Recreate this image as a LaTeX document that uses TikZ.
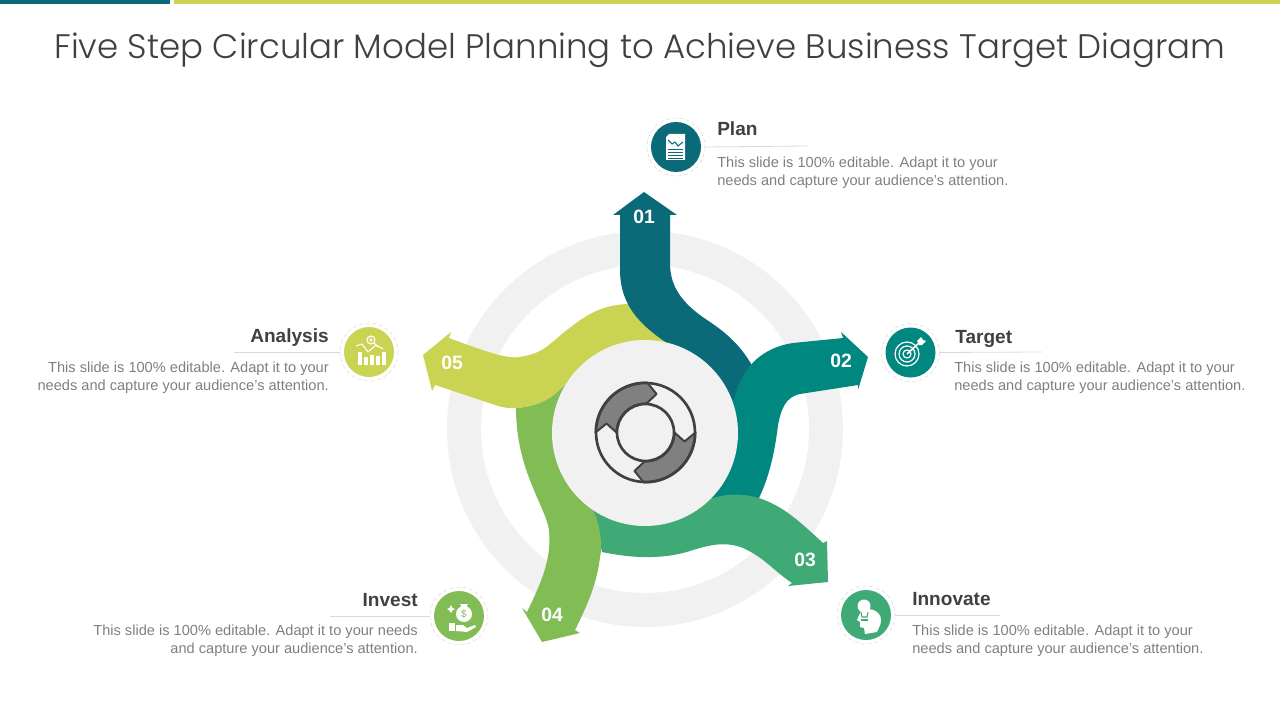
\documentclass[tikz,border=0pt]{standalone}
\usepackage{fontspec}
\setmainfont{Liberation Sans}
\newfontfamily\titlefont{Poppins Light}
\usetikzlibrary{arrows.meta, positioning, calc}
\definecolor{stepone}{HTML}{0A6A78}
\definecolor{steptwo}{HTML}{00877F}
\definecolor{stepthree}{HTML}{3FAA75}
\definecolor{stepfour}{HTML}{82BC55}
\definecolor{stepfive}{HTML}{CBD352}
\definecolor{softgray}{HTML}{F1F1F1}
\definecolor{darktext}{HTML}{404040}
\definecolor{bodytext}{HTML}{7F7F7F}
\definecolor{rulegray}{HTML}{D9D9D9}
\tikzset{
    numlabel/.style={text=white, font=\fontsize{14.5}{16}\selectfont\bfseries, inner sep=0pt},
    headleft/.style={text=darktext, font=\fontsize{14.3}{18}\selectfont\bfseries, inner sep=0pt, anchor=base west},
    headright/.style={text=darktext, font=\fontsize{14.3}{18}\selectfont\bfseries, inner sep=0pt, anchor=base east},
    bodyleft/.style={text=bodytext, font=\fontsize{10.95}{13.5}\selectfont, inner sep=0pt, anchor=west, align=left},
    bodyright/.style={text=bodytext, font=\fontsize{10.95}{13.5}\selectfont, inner sep=0pt, anchor=east, align=right},
    iconbadge/.style={circle, fill=#1, minimum size=37.5pt, inner sep=0pt},
    iconring/.style={draw=rulegray, densely dashed, line width=0.4pt},
    headrule/.style={draw=rulegray, line width=0.6pt},
    iconline/.style={draw=white, line width=1pt},
}
\begin{document}
\begin{tikzpicture}[x=0.75pt, y=-0.75pt]
    \useasboundingbox (0,0) rectangle (1280,720);
    \fill[stepone] (0,0) rectangle (170,4);
    \fill[stepfive] (174,0) rectangle (1280,4);
    \node[text=darktext, font=\titlefont\fontsize{25.5}{30}\selectfont, inner sep=0pt] (title) at (640,50) {Five Step Circular Model Planning to Achieve Business Target Diagram};

    \fill[softgray, even odd rule] (645,429) circle[radius=198] (645,429) circle[radius=164];

    % arrows, 04 stops on the lower edge of 05
    \fill[stepfive] (423,355) -- (432,391) -- (435,385) -- (495,405) .. controls (502,407.5) and (509,408.5) .. (516,408) .. controls (524,407.5) and (532,406) .. (540,403) .. controls (552,398) and (560,390) .. (566,384) -- (680,400) -- (680,320) -- (628,304) .. controls (600,305) and (585,316) .. (567,330) .. controls (550,343) and (545,352) .. (525,356) .. controls (510,360) and (495,355) .. (449,338) -- (451,332) -- cycle;
    \fill[stepone] (644,192) -- (677,215) -- (670,215) -- (670,263) .. controls (670,285) and (680,302) .. (707,320) .. controls (730,335) and (745,350) .. (757,375) -- (750,410) -- (700,420) -- (667,343) .. controls (640,325) and (620,305) .. (620,270) -- (620,215) -- (613,215) -- cycle;
    \fill[steptwo] (868,357) -- (858,390) -- (858,385) -- (800,394) .. controls (785,397) and (781,410) .. (778,425) .. controls (775,450) and (770,475) .. (759,498) -- (745,510) -- (700,500) -- (720,420) -- (735,397) .. controls (742,365) and (765,347) .. (793,343) -- (843,338) -- (841,332) -- cycle;
    \fill[stepthree] (828,582) -- (788,586) -- (792,583) .. controls (775,572) and (765,558) .. (743,548) .. controls (725,541) and (710,545) .. (693,550) .. controls (670,558) and (640,560) .. (602,552) -- (590,500) -- (640,470) -- (713,498) .. controls (730,493) and (745,494) .. (759,498) .. controls (785,507) and (800,522) .. (823,543) -- (827,541) -- cycle;
    \fill[stepfour] (542,642) -- (522,608) -- (527,612) .. controls (540,585) and (552,560) .. (549,530) .. controls (545,505) and (516,470) .. (516,408) .. controls (524,407.5) and (532,406) .. (540,403) .. controls (552,398) and (560,390) .. (566,384) -- (620,480) -- (593,510) .. controls (600,525) and (603,545) .. (600,557) .. controls (597,585) and (585,610) .. (575,630) -- (580,633) -- cycle;

    \node[numlabel] (num1) at (644,217) {01};
    \node[numlabel] (num2) at (841,361) {02};
    \node[numlabel] (num3) at (805,560) {03};
    \node[numlabel] (num4) at (552,615) {04};
    \node[numlabel] (num5) at (452,363) {05};

    \fill[softgray] (645,433) circle[radius=93];

    % center symbol
    \foreach \a in {0,180} {
        \begin{scope}[shift={(645.5,432.5)}, rotate=\a]
            \filldraw[fill=gray, draw=darktext, line width=1.5pt, line join=round] (-180:50) arc[start angle=-180, end angle=-88, radius=50] -- (-74:40) -- (-88:29) arc[start angle=-88, end angle=-180, radius=29] -- (-167:40) -- cycle;
        \end{scope}
    }
    \draw[draw=darktext, line width=2pt] (645.5,432.5) circle[radius=49.5] (645.5,432.5) circle[radius=28.5];

    % badges and texts
    \node[iconbadge=stepone] (plan) at (676,147) {};
    \node[iconbadge=steptwo] (target) at (910.5,352.5) {};
    \node[iconbadge=stepthree] (innovate) at (866,615) {};
    \node[iconbadge=stepfour] (invest) at (459,616) {};
    \node[iconbadge=stepfive] (analysis) at (369,352) {};
    \foreach \n in {plan,target,innovate,invest,analysis}
        \draw[iconring] (\n) circle[radius=29];

    \coordinate (planend) at (807,146);
    \coordinate (targetend) at (1042,352);
    \coordinate (innovateend) at (1000,615);
    \coordinate (investend) at (330,616);
    \coordinate (analysisend) at (234,352);
    \draw[headrule] ($(plan)+(29,0)$) -- (planend);
    \draw[headrule] ($(target)+(29,0)$) -- (targetend);
    \draw[headrule] ($(innovate)+(29,0)$) -- (innovateend);
    \draw[headrule] ($(invest)+(-29,0)$) -- (investend);
    \draw[headrule] ($(analysis)+(-29,0)$) -- (analysisend);

    \node[headleft] (planhead) at (717,136) {Plan};
    \node[bodyleft] (plantext) at (717,173) {This slide is 100\% editable. Adapt it to your\\needs and capture your audience's attention.};
    \node[headleft] (targethead) at (955,343) {Target};
    \node[bodyleft] (targettext) at (954,378) {This slide is 100\% editable. Adapt it to your\\needs and capture your audience's attention.};
    \node[headleft] (innovatehead) at (912,605) {Innovate};
    \node[bodyleft] (innovatetext) at (912,641) {This slide is 100\% editable. Adapt it to your\\needs and capture your audience's attention.};
    \node[headright] (investhead) at (418,606) {Invest};
    \node[bodyright] (investtext) at (418,641) {This slide is 100\% editable. Adapt it to your needs\\and capture your audience's attention.};
    \node[headright] (analysishead) at (329,342) {Analysis};
    \node[bodyright] (analysistext) at (329,378) {This slide is 100\% editable. Adapt it to your\\needs and capture your audience's attention.};

    % plan icon
    \fill[white] (669,134) -- (685,134) -- (685,160) -- (666,160) -- (666,137) -- cycle;
    \draw[stepone, line width=0.8pt] (668,140) -- (672,144) -- (675,142) -- (678,146) -- (683,142);
    \foreach \y in {149,152,155,158}
        \draw[stepone, line width=0.7pt] (668,\y) -- (683,\y);

    % target icon
    \foreach \r in {4,8,12}
        \draw[iconline, line width=0.9pt] (907,354) circle[radius=\r];
    \draw[iconline, line width=1.2pt] (907,354) -- (919,343);
    \fill[white] (917,341) -- (921,337) -- (923,340) -- (926,341) -- (922,345) -- (919,345) -- cycle;

    % innovate icon
    \fill[white] (861,611) .. controls (871,606) and (881,612) .. (881,620) .. controls (881,626) and (878,628) .. (877,632) -- (865,634) -- (864,628) -- (860,627) -- (860,622) -- (857,620) -- cycle;
    \fill[white] (864,606) circle[radius=6.5];
    \draw[stepthree, line width=0.8pt] (861,612) -- (862,617) -- (867,617) -- (868,612);
    \draw[stepthree, line width=0.8pt] (861,620) -- (868,620);

    % invest icon
    \fill[white] (464,614) circle[radius=8];
    \fill[white] (460,604) -- (468,604) -- (466,608) -- (462,608) -- cycle;
    \node[text=stepfour, font=\fontsize{7.5}{8}\selectfont, inner sep=0pt] (dollar) at (464,614) {\$};
    \fill[white] (451,605) -- (452.5,608) -- (455,609) -- (452.5,610.5) -- (451,613) -- (449.5,610.5) -- (447,609) -- (449.5,608) -- cycle;
    \fill[white] (449,623) rectangle (455,631);
    \fill[white] (456,625) -- (463,625) -- (467,628) -- (475,625) -- (476,627) -- (467,632) -- (456,631) -- cycle;

    % analysis icon
    \foreach \x/\h in {357.5/13,363.5/8,369.5/10,375.5/9,381.5/13}
        \fill[white] (\x,365) rectangle ++(4,-\h);
    \draw[iconline, line width=0.8pt] (356,346) -- (362,344) -- (368,352) -- (376,345) -- (383,349);
    \draw[iconline, line width=0.9pt] (371,340) circle[radius=4];
    \fill[white] (371,340) circle[radius=1.8];
    \draw[iconline] (374,343) -- (378,347);
\end{tikzpicture}
\end{document}
